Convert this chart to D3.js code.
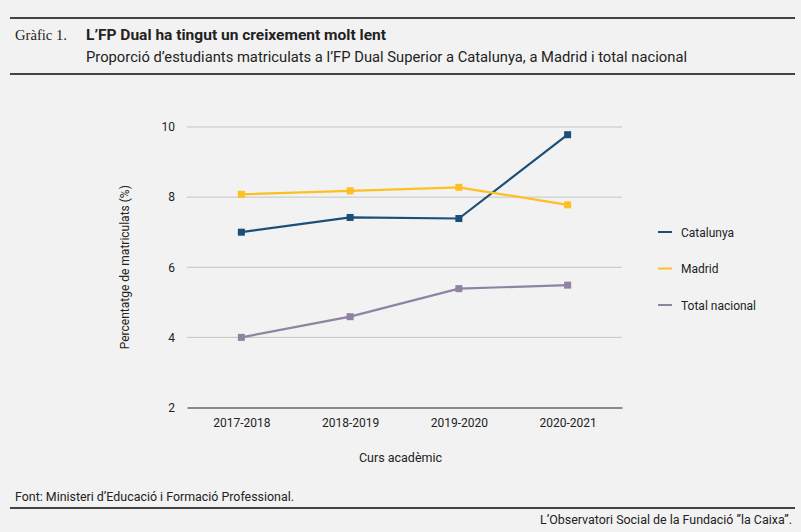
<!DOCTYPE html>
<html>
<head>
<meta charset="utf-8">
<script src="https://cdn.jsdelivr.net/npm/d3@7"></script>
<style>
  html, body { margin: 0; padding: 0; background: #f2f2f2; }
  svg { display: block; }
  text { fill: #222; }
</style>
</head>
<body>
<script>
// data
var courses = ["2017-2018", "2018-2019", "2019-2020", "2020-2021"];
var catalunya = [7.0, 7.42, 7.39, 9.78];
var madrid = [8.08, 8.18, 8.28, 7.78];
var totalNacional = [4.0, 4.59, 5.39, 5.49];
var seriesNames = ["Catalunya", "Madrid", "Total nacional"];
var seriesColors = ["#1b4f77", "#fdc020", "#8f83a3"];
var yTicks = [2, 4, 6, 8, 10];

var width = 801, height = 532;
var font = "'Liberation Sans Narrow', 'Roboto', sans-serif";

var svg = d3.select("body").append("svg")
  .attr("width", width)
  .attr("height", height)
  .style("background", "#f2f2f2");

// header
svg.append("rect").attr("x", 10).attr("y", 17).attr("width", 785).attr("height", 2).attr("fill", "#444");
svg.append("rect").attr("x", 10).attr("y", 73).attr("width", 785).attr("height", 2).attr("fill", "#444");

svg.append("text")
  .attr("x", 15).attr("y", 40)
  .style("font-family", "'Liberation Serif', serif")
  .style("font-size", "14px")
  .attr("textLength", 52).attr("lengthAdjust", "spacingAndGlyphs")
  .text("Gràfic 1.");

svg.append("text")
  .attr("x", 86).attr("y", 40)
  .style("font-family", font)
  .style("font-size", "15px")
  .style("font-weight", "bold")
  .attr("textLength", 300).attr("lengthAdjust", "spacingAndGlyphs")
  .text("L’FP Dual ha tingut un creixement molt lent");

svg.append("text")
  .attr("x", 86).attr("y", 62)
  .style("font-family", font)
  .style("font-size", "15px")
  .attr("textLength", 601).attr("lengthAdjust", "spacingAndGlyphs")
  .text("Proporció d’estudiants matriculats a l’FP Dual Superior a Catalunya, a Madrid i total nacional");

// plot
var margin = {left: 187, right: 179, top: 127, bottom: 125};
var plotW = width - margin.left - margin.right,
    plotH = height - margin.top - margin.bottom;

var g = svg.append("g")
  .attr("transform", "translate(" + margin.left + "," + margin.top + ")");

var x = d3.scalePoint().domain(courses).range([0, plotW]).padding(0.5);
var y = d3.scaleLinear().domain([2, 10]).range([plotH + 0.5, 0]);

// gridlines
g.selectAll(".grid")
  .data(yTicks.filter(d => d > 2))
  .enter().append("line")
  .attr("x1", 0).attr("x2", plotW)
  .attr("y1", d => y(d)).attr("y2", d => y(d))
  .attr("stroke", "#c4c4c4")
  .attr("stroke-width", 1);

// y axis labels
var yAxis = g.append("g")
  .call(d3.axisLeft(y).tickValues(yTicks).tickSize(0).tickPadding(12));
yAxis.select(".domain").remove();
yAxis.selectAll("text")
  .style("font-family", "'Roboto', sans-serif")
  .style("font-size", "12px")
  .attr("fill", "#222");

// x axis
var xAxis = g.append("g")
  .attr("transform", "translate(0," + y(2) + ")")
  .call(d3.axisBottom(x).tickSize(0).tickPadding(11));
xAxis.select(".domain").attr("stroke", "#222").attr("stroke-width", 1);
xAxis.selectAll("text")
  .style("font-family", font)
  .style("font-size", "12px")
  .attr("fill", "#222");

// axis titles
svg.append("text")
  .attr("transform", "translate(129," + (margin.top + y(6)) + ") rotate(-90)")
  .attr("text-anchor", "middle")
  .style("font-family", "'Roboto', sans-serif")
  .style("font-size", "12px")
  .text("Percentatge de matriculats (%)");

svg.append("text")
  .attr("x", margin.left + plotW / 2 - 4)
  .attr("y", 462)
  .attr("text-anchor", "middle")
  .style("font-family", font)
  .style("font-size", "12.5px")
  .text("Curs acadèmic");

// lines
var allSeries = [catalunya, madrid, totalNacional].map((vals, i) => ({
  name: seriesNames[i],
  color: seriesColors[i],
  values: vals.map((v, j) => ({course: courses[j], value: v}))
}));

var line = d3.line().x(d => x(d.course)).y(d => y(d.value));

var sg = g.selectAll(".series")
  .data(allSeries)
  .enter().append("g");

sg.append("path")
  .attr("d", d => line(d.values))
  .attr("fill", "none")
  .attr("stroke", d => d.color)
  .attr("stroke-width", 2.2);

sg.selectAll("rect")
  .data(d => d.values.map(v => Object.assign({color: d.color}, v)))
  .enter().append("rect")
  .attr("x", d => x(d.course) - 3.5)
  .attr("y", d => y(d.value) - 3.5)
  .attr("width", 7).attr("height", 7)
  .attr("fill", d => d.color);

// legend
var legend = svg.append("g").attr("transform", "translate(658,232)");
var li = legend.selectAll("g")
  .data(allSeries)
  .enter().append("g")
  .attr("transform", (d, i) => "translate(0," + (i * 36.5) + ")");
li.append("line")
  .attr("x1", 0).attr("x2", 14)
  .attr("stroke", d => d.color)
  .attr("stroke-width", 2);
li.append("text")
  .attr("x", 23).attr("y", 4.5)
  .style("font-family", "'Roboto', sans-serif")
  .style("font-size", "12px")
  .text(d => d.name);

// footer
svg.append("text")
  .attr("x", 15).attr("y", 501)
  .style("font-family", font)
  .style("font-size", "12.5px")
  .attr("textLength", 279).attr("lengthAdjust", "spacingAndGlyphs")
  .text("Font: Ministeri d’Educació i Formació Professional.");

svg.append("rect").attr("x", 10).attr("y", 507).attr("width", 785).attr("height", 2).attr("fill", "#444");

svg.append("text")
  .attr("x", 792).attr("y", 524)
  .attr("text-anchor", "end")
  .style("font-family", font)
  .style("font-size", "12.5px")
  .attr("textLength", 252).attr("lengthAdjust", "spacingAndGlyphs")
  .text("L’Observatori Social de la Fundació ”la Caixa”.");
</script>
</body>
</html>
